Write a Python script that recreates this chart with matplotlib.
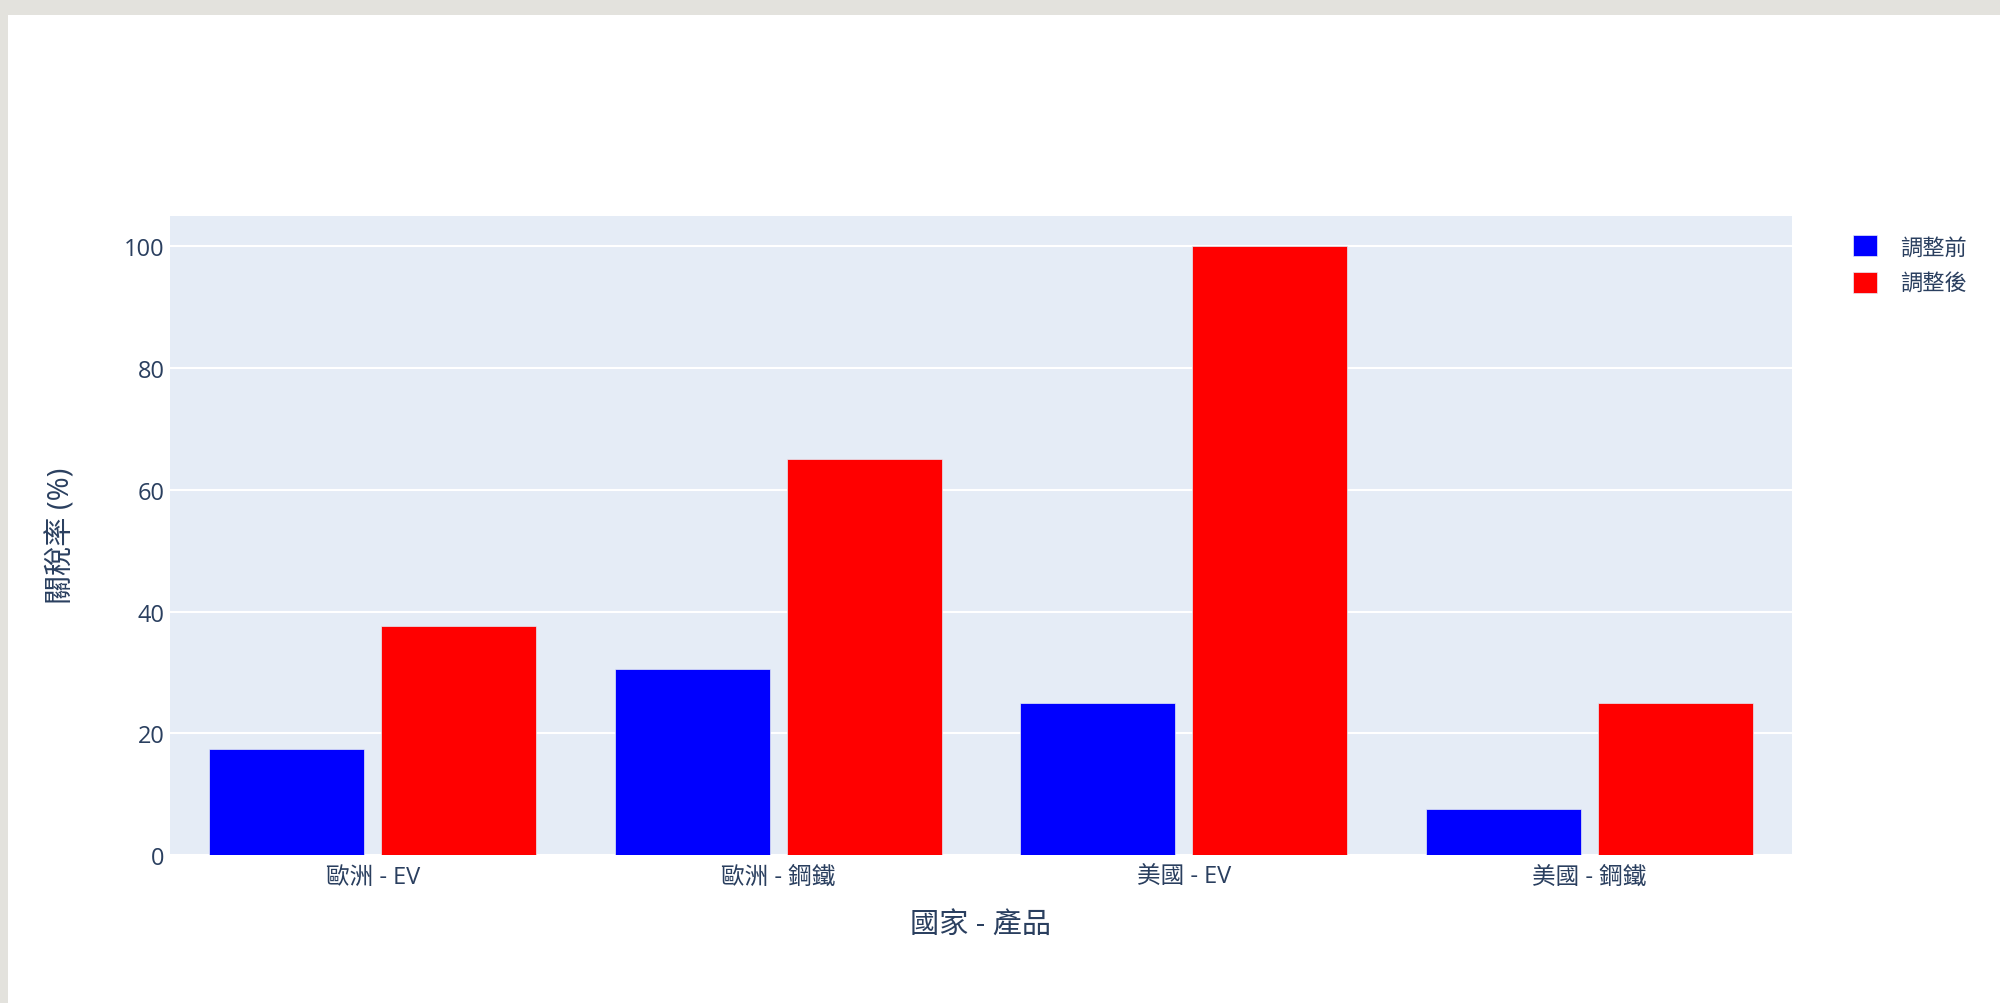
import numpy as np
import matplotlib
matplotlib.use("Agg")
import matplotlib.pyplot as plt
from matplotlib.patches import Rectangle

plt.rcParams["font.family"] = ["Open Sans", "Noto Sans CJK TC", "DejaVu Sans"]

# tariff rates per country / product
categories = ["歐洲 - EV", "歐洲 - 鋼鐵", "美國 - EV", "美國 - 鋼鐵"]
before = [17.4, 30.6, 25.0, 7.5]
after = [37.6, 65.0, 100.0, 25.0]
series_names = ["調整前", "調整後"]
yticks = [0, 20, 40, 60, 80, 100]

text_color = "#2a3f5f"

fig = plt.figure(figsize=(20, 10.04), dpi=100, facecolor="#e3e2dd")
# white page area inside the grey frame
fig.patches.append(Rectangle((8 / 2000, 0), 1, (1004 - 16) / 1004,
                             transform=fig.transFigure, facecolor="white",
                             edgecolor="none", zorder=-5))

ax = fig.add_axes([170 / 2000, (1004 - 856) / 1004, 1622 / 2000, 639 / 1004])
ax.set_zorder(2)
ax.set_facecolor("#e5ecf6")

x = np.arange(len(categories))
w = 0.382
ax.bar(x - 0.212, before, w, color="blue", edgecolor="#e5ecf6", linewidth=0.5,
       label=series_names[0], zorder=3)
ax.bar(x + 0.212, after, w, color="red", edgecolor="#e5ecf6", linewidth=0.5,
       label=series_names[1], zorder=3)

ax.set_xlim(-0.5, len(categories) - 0.5)
ax.set_ylim(0, 105)
ax.set_yticks(yticks)
ax.set_xticks(x)
ax.set_xticklabels(categories)
ax.grid(axis="y", color="white", linewidth=1.5, zorder=1)
ax.set_axisbelow(True)
for s in ax.spines.values():
    s.set_visible(False)
ax.tick_params(axis="both", length=0, labelsize=17, colors=text_color)
ax.tick_params(axis="y", pad=4)
ax.tick_params(axis="x", pad=7)

fig.text(981 / 2000, 1 - 926 / 1004, "國家 - 產品", ha="center", va="center",
         fontsize=21, color=text_color, zorder=3)
fig.text(62 / 2000, 1 - 536 / 1004, "關稅率 (%)", ha="center", va="center",
         rotation=90, fontsize=21, color=text_color, zorder=3)

leg = fig.legend(loc="upper left", bbox_to_anchor=(1833 / 2000, 1 - 216 / 1004),
                 frameon=False, fontsize=16, handlelength=1.1, handleheight=1.1,
                 handletextpad=1.0, labelspacing=0.6, labelcolor=text_color)
leg.set_zorder(3)

fig.savefig("out.png", dpi=100, facecolor=fig.get_facecolor())
